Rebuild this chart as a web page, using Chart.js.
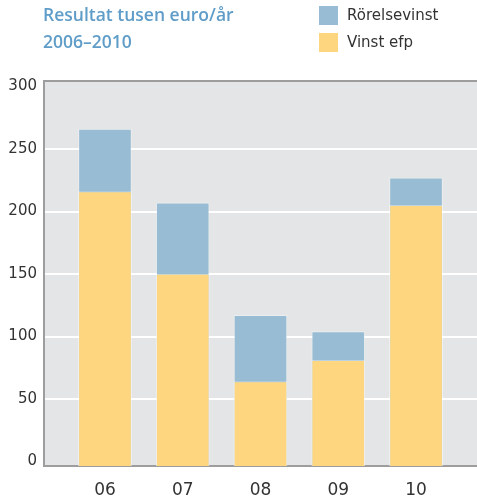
<!DOCTYPE html>
<html>
<head>
<title>Resultat tusen euro/år</title>
<style>
body { margin: 0; background: #ffffff; }
#wrap { position: relative; width: 477px; height: 502px; }
#chart { position: absolute; left: 0; top: 0; }
.title { position: absolute; left: 43px; top: 1px; font-family: "Open Sans", sans-serif; font-weight: 600; font-size: 17.5px; line-height: 27px; color: #5f9dc8; }
.legend { position: absolute; left: 319px; top: 6px; font-family: "DejaVu Sans", sans-serif; font-size: 15px; color: #333333; }
.legend div { height: 27px; position: relative; }
.legend span.box { position: absolute; left: 0; top: 0; width: 19px; height: 19px; }
.legend span.txt { position: absolute; left: 28px; top: 0px; line-height: 19px; white-space: nowrap; }
</style>
</head>
<body>
<div id="wrap">
<canvas id="chart" width="477" height="502"></canvas>
<div class="title">Resultat tusen euro/år<br>2006–2010</div>
<div class="legend">
  <div><span class="box" style="background:#98bcd3"></span><span class="txt">Rörelsevinst</span></div>
  <div><span class="box" style="background:#fed67f"></span><span class="txt">Vinst efp</span></div>
</div>
</div>

<script src="https://cdn.jsdelivr.net/npm/chart.js@4"></script>
<script>
// values (tusen euro)
const years = ['06', '07', '08', '09', '10'];
const rorelsevinst = [266, 207, 117, 104, 227];
const vinstEfp = [216, 150, 64, 81, 205];
const yTicks = [0, 50, 100, 150, 200, 250, 300];

let yMin = -3.6, yMax = 304.4;

// grey plot background + top rule
const plotBg = {
  id: 'plotBg',
  beforeDraw(chart) {
    let c = chart.ctx, a = chart.chartArea;
    c.save();
    c.fillStyle = '#e4e5e7';
    c.fillRect(a.left, a.top, a.right - a.left, a.bottom - a.top);
    c.restore();
  },
  afterDraw(chart) {
    let c = chart.ctx, a = chart.chartArea;
    c.save();
    c.strokeStyle = '#9d9d9d';
    c.lineWidth = 2;
    c.beginPath();
    c.moveTo(a.left - 1, a.top);
    c.lineTo(a.right, a.top);
    c.stroke();
    c.restore();
  }
};

let ctx = document.getElementById('chart').getContext('2d');
let chart = new Chart(ctx, {
  type: 'bar',
  data: {
    datasets: [{
      label: 'Rörelsevinst',
      data: rorelsevinst.map((v, i) => ({ x: i, y: v })),
      backgroundColor: '#98bcd3',
      borderColor: 'rgba(255,255,255,0.35)',
      borderWidth: 1,
      grouped: false,
      order: 2,
      base: yMin
    }, {
      label: 'Vinst efp',
      data: vinstEfp.map((v, i) => ({ x: i, y: v })),
      backgroundColor: '#fed67f',
      borderColor: 'rgba(255,255,255,0.35)',
      borderWidth: 1,
      grouped: false,
      order: 1,
      base: yMin
    }]
  },
  options: {
    responsive: false,
    animation: false,
    barThickness: 53,
    layout: { padding: { top: 81, right: 0, left: 0, bottom: 0 } },
    plugins: { legend: { display: false }, title: { display: false }, tooltip: { enabled: false } },
    scales: {
      x: {
        type: 'linear',
        offset: false,
        min: -0.784, max: 4.784,
        afterBuildTicks: s => { s.ticks = years.map((y, i) => ({ value: i })); },
        afterFit: s => { s.height = 36; },
        grid: { display: false, drawTicks: false, offset: false },
        border: { display: true, color: '#9d9d9d', width: 2 },
        ticks: {
          callback: v => years[v],
          color: '#333333',
          padding: 14,
          maxRotation: 0,
          font: { family: 'DejaVu Sans', size: 17 }
        }
      },
      y: {
        min: yMin, max: yMax,
        afterBuildTicks: s => { s.ticks = yTicks.map(v => ({ value: v })); },
        afterFit: s => { s.width = 44; },
        grid: {
          drawTicks: false,
          lineWidth: 2,
          color: c => (c.tick && c.tick.value > 0 && c.tick.value < 300) ? '#ffffff' : 'rgba(0,0,0,0)'
        },
        border: { display: true, color: '#9d9d9d', width: 2 },
        ticks: {
          color: '#333333',
          padding: 7,
          font: { family: 'DejaVu Sans', size: 15 }
        }
      }
    }
  },
  plugins: [plotBg]
});
</script>
</body>
</html>
